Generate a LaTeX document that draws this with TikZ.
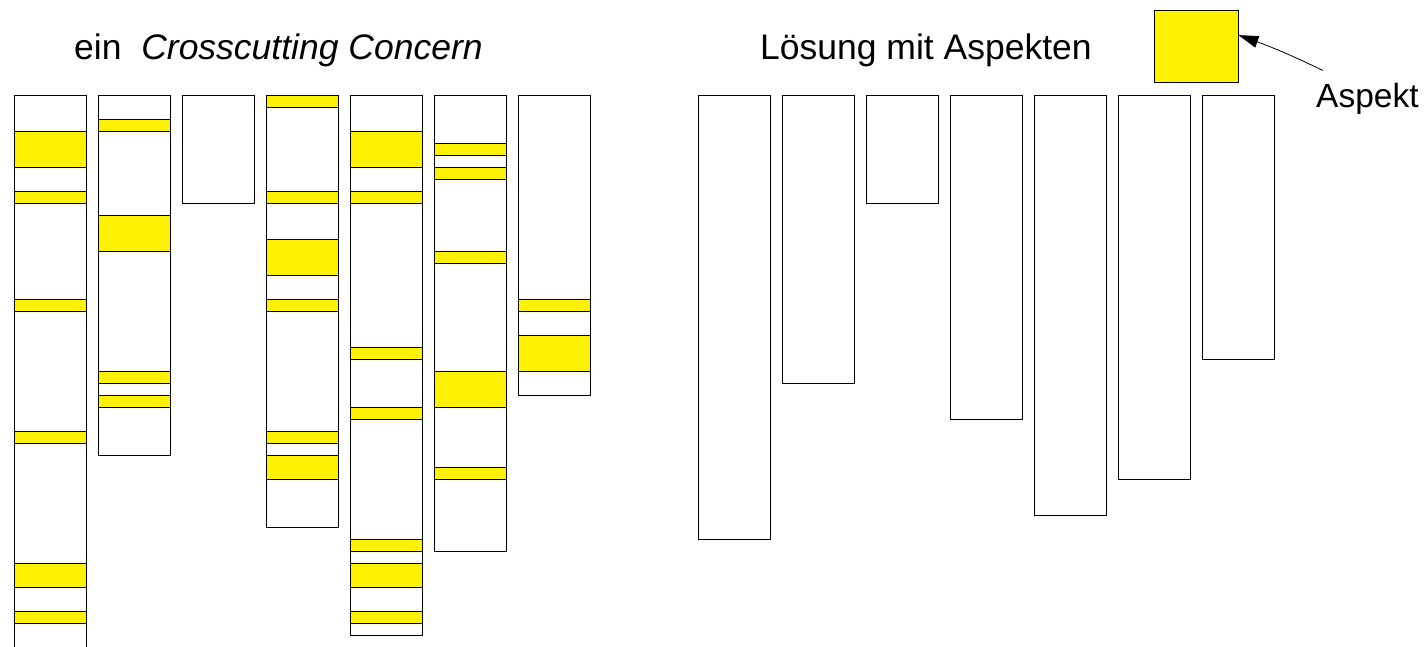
\documentclass[tikz,border=0pt]{standalone}
\usepackage{fontspec}
\setmainfont{Liberation Sans}
\usetikzlibrary{arrows.meta}
\tikzset{
  module/.style={draw, line width=0.9pt},
  concern/.style={module, fill=yellow},
  caption/.style={anchor=base west, inner sep=0pt, font=\fontsize{35.5pt}{42pt}\selectfont}
}

\begin{document}
\begin{tikzpicture}[x=12pt, y=-12pt]
  \useasboundingbox (0,0) rectangle (1427pt,-646pt);

  \node[caption] (tangled) at (74pt,-59.3pt) {ein\ \ \textit{Crosscutting Concern}};
  \node[caption] (woven) at (760pt,-59.3pt) {Lösung mit Aspekten};

  % modules with scattered concern code, one column every 7 units
  \begin{scope}[shift={(14pt,-95pt)}]
    \foreach \i/\bottom in {0/47,1/30,2/9,3/36,4/45,5/38,6/25}
      \draw[module] (7*\i,0) rectangle ++(6,\bottom);
    \foreach \i/\a/\b in {0/3/6,0/8/9,0/17/18,0/28/29,0/39/41,0/43/44,
                          1/2/3,1/10/13,1/23/24,1/25/26,
                          3/0/1,3/8/9,3/12/15,3/17/18,3/28/29,3/30/32,
                          4/3/6,4/8/9,4/21/22,4/26/27,4/37/38,4/39/41,4/43/44,
                          5/4/5,5/6/7,5/13/14,5/23/26,5/31/32,
                          6/17/18,6/20/23}
      \draw[concern] (7*\i,\a) rectangle (7*\i+6,\b);
  \end{scope}

  % the same modules, concern moved out
  \begin{scope}[shift={(698pt,-95pt)}]
    \foreach \i/\bottom in {0/37,1/24,2/9,3/27,4/35,5/32,6/22}
      \draw[module] (7*\i,0) rectangle ++(6,\bottom);
  \end{scope}

  \node[concern, minimum width=84pt, minimum height=72pt, inner sep=0pt] (aspect) at (1196pt,-46.5pt) {};
  \node[caption, font=\fontsize{33.5pt}{40pt}\selectfont] (aspectlabel) at (1316pt,-107pt) {Aspekt};
  \draw[-{Triangle[length=20pt,width=12pt]}, line width=0.8pt]
    ([shift={(7pt,12pt)}]aspectlabel.north west) to[bend right=3] (aspect.15);
\end{tikzpicture}
\end{document}
